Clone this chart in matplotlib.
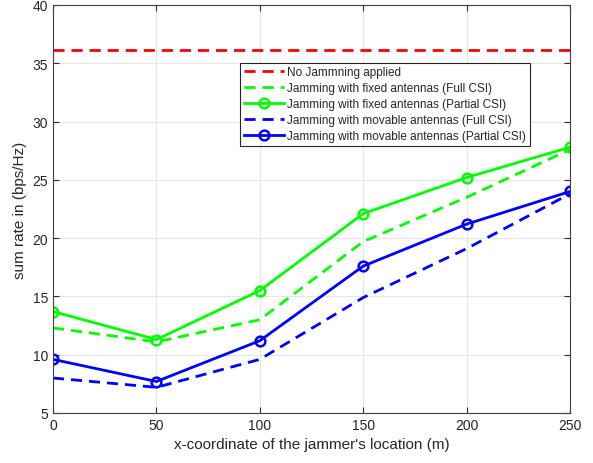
import matplotlib.pyplot as plt
import numpy as np

plt.rcParams['font.family'] = ['Liberation Sans', 'DejaVu Sans']

# jammer x-coordinate (m)
x_pos = [0, 50, 100, 150, 200, 250]

no_jamming = 36.1
fixed_full = [12.3, 11.1, 13.0, 19.7, 23.5, 27.6]
fixed_partial = [13.7, 11.3, 15.5, 22.1, 25.2, 27.8]
movable_full = [8.0, 7.2, 9.6, 14.9, 19.1, 23.8]
movable_partial = [9.6, 7.7, 11.2, 17.6, 21.2, 24.0]

labels = ['No Jammning applied',
          'Jamming with fixed antennas (Full CSI)',
          'Jamming with fixed antennas (Partial CSI)',
          'Jamming with movable antennas (Full CSI)',
          'Jamming with movable antennas (Partial CSI)']

fig = plt.figure(figsize=(5.93, 4.64), dpi=100)
ax = fig.add_axes([0.0894, 0.1078, 0.8718, 0.8793])

lw = 2
ax.axhline(no_jamming, color='red', ls='--', lw=lw, dashes=(4, 2.5), label=labels[0])
ax.plot(x_pos, fixed_full, color='#00ff00', ls='--', lw=lw, dashes=(4, 2.5), label=labels[1])
ax.plot(x_pos, fixed_partial, color='#00ff00', lw=lw, marker='o', ms=7,
        mfc='none', mew=1.8, label=labels[2])
ax.plot(x_pos, movable_full, color='blue', ls='--', lw=lw, dashes=(4, 2.5), label=labels[3])
ax.plot(x_pos, movable_partial, color='blue', lw=lw, marker='o', ms=7,
        mfc='none', mew=1.8, label=labels[4])

ax.set_xlim(0, 250)
ax.set_ylim(5, 40)
ax.set_xticks(np.arange(0, 251, 50))
ax.set_yticks(np.arange(5, 41, 5))
ax.grid(True, color='#e6e6e6', lw=0.8)
ax.set_axisbelow(True)
ax.tick_params(direction='in', labelsize=10, colors='#262626', length=4,
               top=True, right=True, labelcolor='#262626')
for s in ax.spines.values():
    s.set_color('#404040')
    s.set_linewidth(0.8)

ax.set_xlabel("x-coordinate of the jammer's location (m)", fontsize=11, color='#262626')
ax.set_ylabel('sum rate in (bps/Hz)', fontsize=11, color='#262626')

leg = ax.legend(loc='upper left', bbox_to_anchor=(0.362, 0.858), fontsize=8.5,
                handlelength=3.4, handletextpad=0.3, borderpad=0.3,
                labelspacing=0.33, fancybox=False, framealpha=1,
                edgecolor='#262626', borderaxespad=0)
leg.get_frame().set_linewidth(0.8)
for t in leg.get_texts():
    t.set_color('#262626')

fig.savefig('out.png', dpi=100)
